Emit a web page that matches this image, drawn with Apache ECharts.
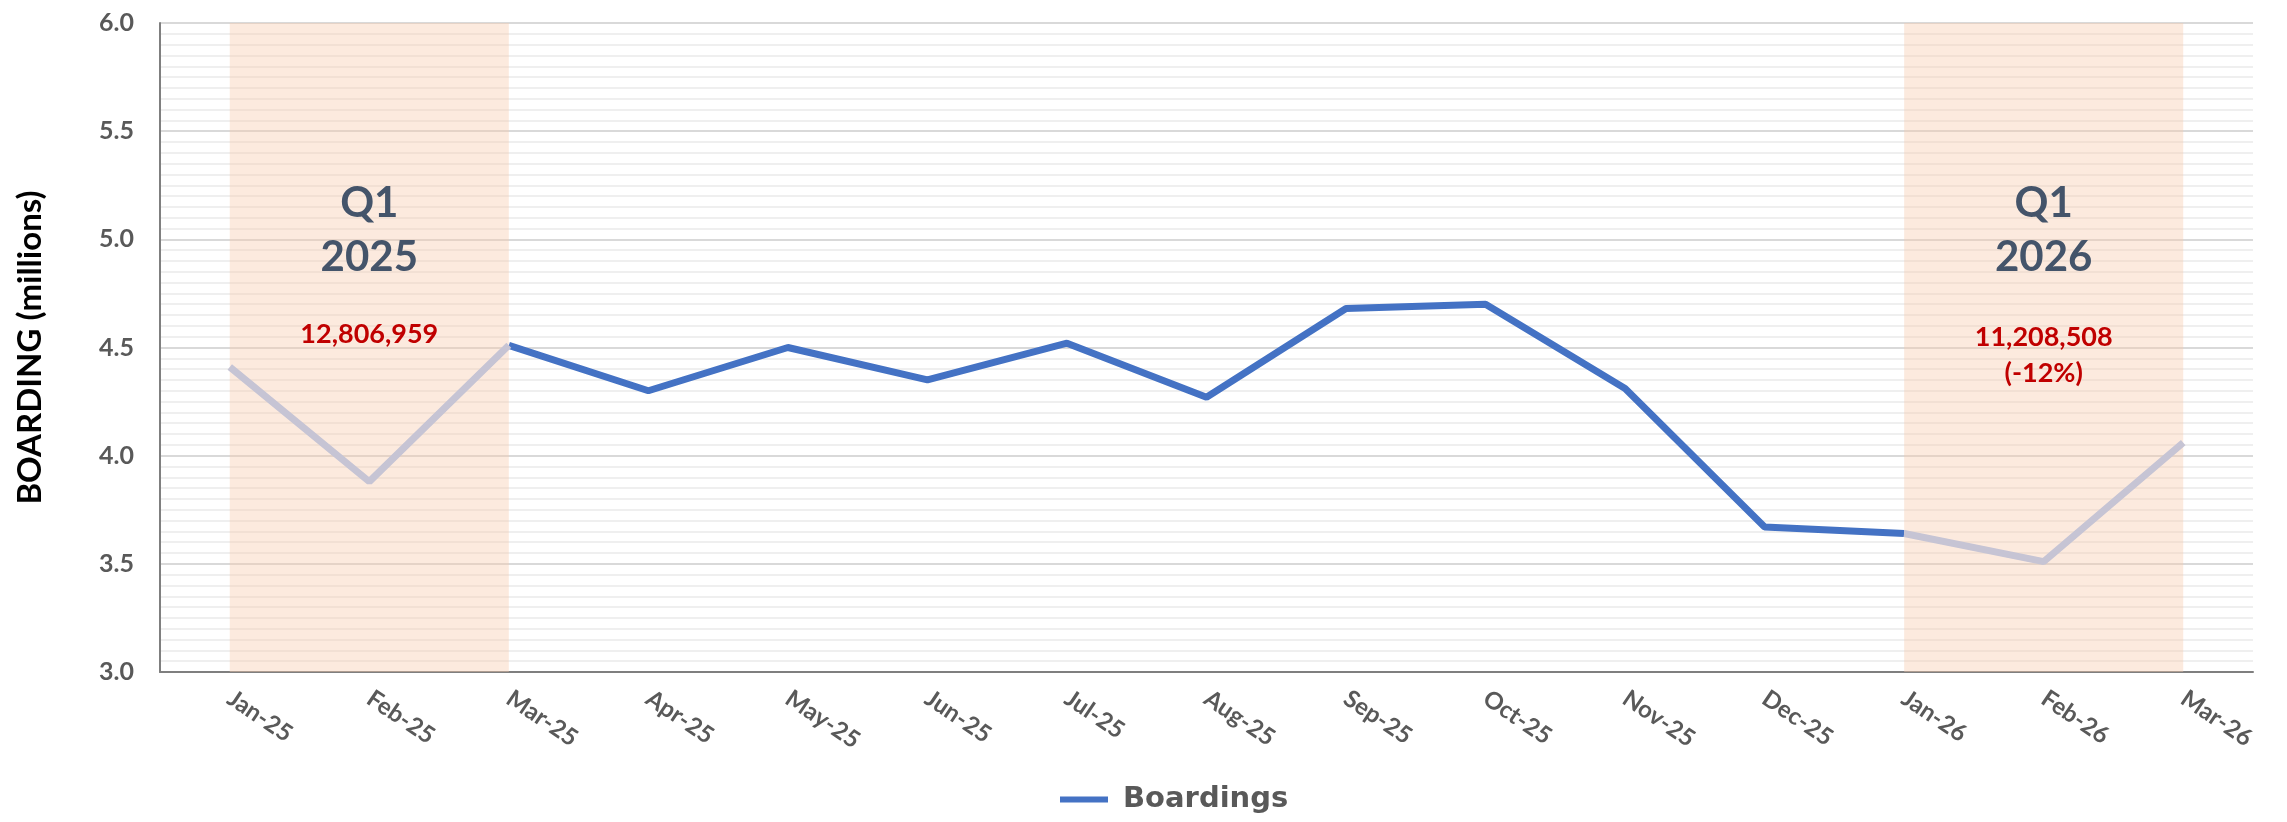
<!DOCTYPE html>
<html>
<head>
<meta charset="utf-8">
<title>Boardings</title>
<script src="https://cdn.jsdelivr.net/npm/echarts@6/dist/echarts.min.js"></script>
<style>
    html, body { margin: 0; padding: 0; background: #fff; }
    #chart { width: 2287px; height: 822px; }
</style>
</head>
<body>
<div id="chart"></div>
<script>
    var months = ['Jan-25', 'Feb-25', 'Mar-25', 'Apr-25', 'May-25', 'Jun-25', 'Jul-25', 'Aug-25',
        'Sep-25', 'Oct-25', 'Nov-25', 'Dec-25', 'Jan-26', 'Feb-26', 'Mar-26'];
    // boardings, millions
    var boardings = [4.41, 3.88, 4.51, 4.30, 4.50, 4.35, 4.52, 4.27, 4.68, 4.70, 4.31, 3.67, 3.64, 3.51, 4.06];

    var quarterStart = ['Jan-25', 'Jan-26'];
    var quarterEnd = ['Mar-25', 'Mar-26'];
    var quarterName = ['Q1', 'Q1'];
    var quarterYear = ['2025', '2026'];
    var quarterTotal = ['12,806,959', '11,208,508'];
    var quarterChange = ['', '(-12%)'];

    var FONT = 'Lato, "Open Sans", sans-serif';

    // split the one series into grey (Q1) and blue parts, sharing the end points
    function part(from, to) {
        return boardings.map(function (v, i) { return (i >= from && i <= to) ? v : null; });
    }

    var bands = [];
    var notes = [];
    for (var i = 0; i < quarterStart.length; i++) {
        bands.push([{ xAxis: quarterStart[i] }, { xAxis: quarterEnd[i] }]);
        var mid = months[months.indexOf(quarterStart[i]) + 1];
        notes.push({ coord: [mid, 5.165], text: quarterName[i], style: 'big' });
        notes.push({ coord: [mid, 4.915], text: quarterYear[i], style: 'big' });
        if (quarterChange[i]) {
            notes.push({ coord: [mid, 4.545], text: quarterTotal[i], style: 'red' });
            notes.push({ coord: [mid, 4.38], text: quarterChange[i], style: 'red' });
        } else {
            notes.push({ coord: [mid, 4.56], text: quarterTotal[i], style: 'red' });
        }
    }

    var noteData = notes.map(function (n) {
        var big = n.style === 'big';
        return {
            coord: n.coord,
            symbolSize: 0,
            label: {
                show: true,
                position: 'inside',
                formatter: n.text,
                fontFamily: FONT,
                fontWeight: 'bold',
                fontSize: big ? 42 : 27,
                color: big ? '#44546A' : '#C00000'
            }
        };
    });

    var chart = echarts.init(document.getElementById('chart'));
    chart.setOption({
        animation: false,
        grid: { left: 160, right: 34, top: 23, bottom: 150 },
        legend: {
            data: ['Boardings'],
            left: 1055,
            bottom: 3,
            icon: 'rect',
            itemWidth: 48,
            itemHeight: 6,
            textStyle: {
                fontFamily: '"DejaVu Sans", sans-serif',
                fontWeight: 'bold',
                fontSize: 29,
                color: '#595959',
                padding: [0, 0, 0, 10]
            }
        },
        xAxis: {
            type: 'category',
            data: months,
            boundaryGap: true,
            axisLine: { lineStyle: { color: '#7F7F7F', width: 2 } },
            axisTick: { show: false },
            axisLabel: {
                rotate: -34,
                margin: 24,
                fontFamily: FONT,
                fontWeight: 'bold',
                fontSize: 24,
                color: '#595959'
            }
        },
        yAxis: {
            type: 'value',
            min: 3,
            max: 6,
            interval: 0.5,
            name: 'BOARDING (millions)',
            nameLocation: 'middle',
            nameGap: 113,
            nameTextStyle: { fontFamily: FONT, fontWeight: 'bold', fontSize: 33, color: '#000' },
            axisLine: { show: true, lineStyle: { color: '#7F7F7F', width: 2 } },
            axisTick: { show: false },
            axisLabel: {
                margin: 26,
                fontFamily: FONT,
                fontWeight: 'bold',
                fontSize: 25,
                color: '#595959',
                formatter: function (v) { return v.toFixed(1); }
            },
            splitLine: { lineStyle: { color: '#D9D9D9', width: 2 } },
            minorTick: { show: false, splitNumber: 10 },
            minorSplitLine: { show: true, lineStyle: { color: '#EFEFEF', width: 2 } }
        },
        series: [
            {
                name: 'Boardings',
                type: 'line',
                data: part(2, 12),
                color: '#4472C4',
                symbol: 'none',
                lineStyle: { width: 7, color: '#4472C4' },
                markArea: {
                    silent: true,
                    itemStyle: { color: 'rgba(248, 203, 173, 0.4)' },
                    data: bands
                },
                markPoint: { silent: true, data: noteData }
            },
            {
                name: 'Q1 2025',
                type: 'line',
                data: part(0, 2),
                symbol: 'none',
                z: 3,
                lineStyle: { width: 7, color: '#C6C4D4' }
            },
            {
                name: 'Q1 2026',
                type: 'line',
                data: part(12, 14),
                symbol: 'none',
                z: 3,
                lineStyle: { width: 7, color: '#C6C4D4' }
            }
        ]
    });
</script>
</body>
</html>
